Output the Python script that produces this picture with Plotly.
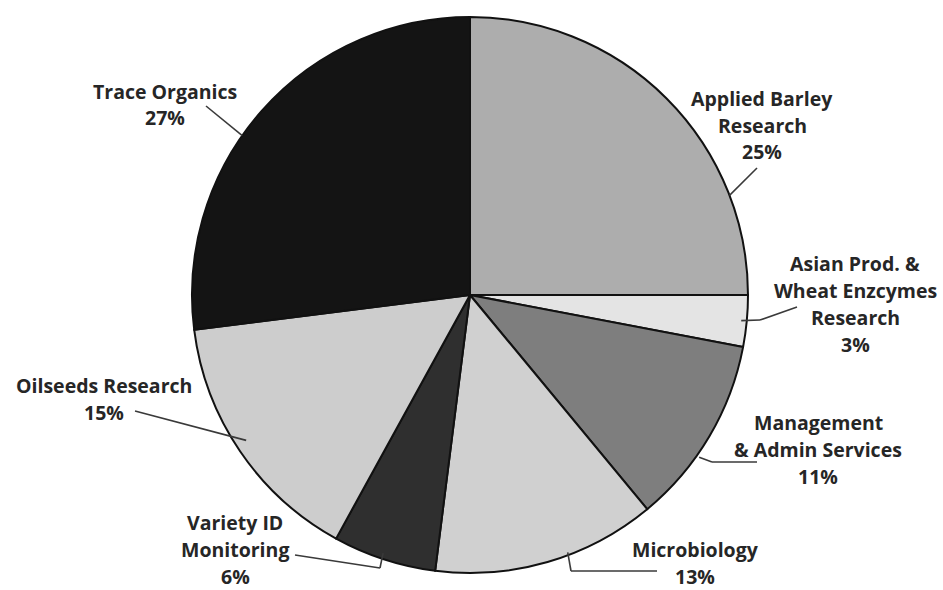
import math
import plotly.graph_objects as go

# Budget share by program area
categories = [
    "Applied Barley Research",
    "Asian Prod. & Wheat Enzcymes Research",
    "Management & Admin Services",
    "Microbiology",
    "Variety ID Monitoring",
    "Oilseeds Research",
    "Trace Organics",
]
shares = [25, 3, 11, 13, 6, 15, 27]
label_lines = [
    ["Applied Barley", "Research"],
    ["Asian Prod. &", "Wheat Enzcymes", "Research"],
    ["Management", "& Admin Services"],
    ["Microbiology"],
    ["Variety ID", "Monitoring"],
    ["Oilseeds Research"],
    ["Trace Organics"],
]
slice_colors = ["#adadad", "#e4e4e4", "#7e7e7e", "#d0d0d0", "#2f2f2f", "#cdcdcd", "#141414"]

W, H = 943, 590
CX, CY, R = 470, 295, 278  # pie centre and radius in pixels

# Label placement (pixels): text centre x, first-line y, leader angle offset
# from slice middle (deg), leader radius factor, and leader path after edge.
label_layout = [
    dict(x=762, y=98, d_ang=24, rf=1.0, path=[(757, 168)]),
    dict(x=855, y=263, d_ang=0, rf=0.98, path=[(760, 320), (797, 307)]),
    dict(x=818, y=422, d_ang=4.7, rf=1.01, path=[(712, 462), (757, 462)]),
    dict(x=695, y=549, d_ang=-4.6, rf=0.99, path=[(571, 571), (657, 571)]),
    dict(x=235, y=522, d_ang=0.6, rf=0.98, path=[(380, 568), (295, 555)]),
    dict(x=104, y=385, d_ang=1.2, rf=0.96, path=[(135, 411)]),
    dict(x=165, y=91, d_ang=-6.4, rf=1.0, path=[(206, 106)]),
]
LINE_H = 27

fig = go.Figure(
    go.Pie(
        labels=categories,
        values=shares,
        sort=False,
        direction="clockwise",
        rotation=0,
        marker=dict(colors=slice_colors, line=dict(color="#111111", width=2)),
        textinfo="none",
        hoverinfo="label+percent",
        domain=dict(x=[(CX - R) / W, (CX + R) / W], y=[(H - CY - R) / H, (H - CY + R) / H]),
        showlegend=False,
    )
)


def px(x, y):
    return x / W, 1 - y / H


total = sum(shares)
annotations = []
shapes = []
cum = 0.0
for val, lines, lay in zip(shares, label_lines, label_layout):
    mid = (cum + val / 2) / total * 360
    cum += val
    ang = math.radians(mid + lay["d_ang"])
    sx = CX + R * lay["rf"] * math.sin(ang)
    sy = CY - R * lay["rf"] * math.cos(ang)
    pts = [(sx, sy)] + lay["path"]
    for (x0, y0), (x1, y1) in zip(pts[:-1], pts[1:]):
        a0, b0 = px(x0, y0)
        a1, b1 = px(x1, y1)
        shapes.append(dict(type="line", xref="paper", yref="paper", x0=a0, y0=b0, x1=a1, y1=b1,
                           line=dict(color="#3a3a3a", width=1.6)))
    texts = lines + [f"{val}%"]
    for i, t in enumerate(texts):
        ax, ay = px(lay["x"], lay["y"] + i * LINE_H)
        annotations.append(dict(text=f"<b>{t}</b>", x=ax, y=ay, xref="paper", yref="paper",
                                xanchor="center", yanchor="middle", showarrow=False,
                                borderpad=0,
                                font=dict(family="Open Sans", size=19.5, color="#262626")))

fig.update_layout(
    width=W,
    height=H,
    margin=dict(l=0, r=0, t=0, b=0),
    paper_bgcolor="white",
    plot_bgcolor="white",
    annotations=annotations,
    shapes=shapes,
)

fig.write_html("out.html")
